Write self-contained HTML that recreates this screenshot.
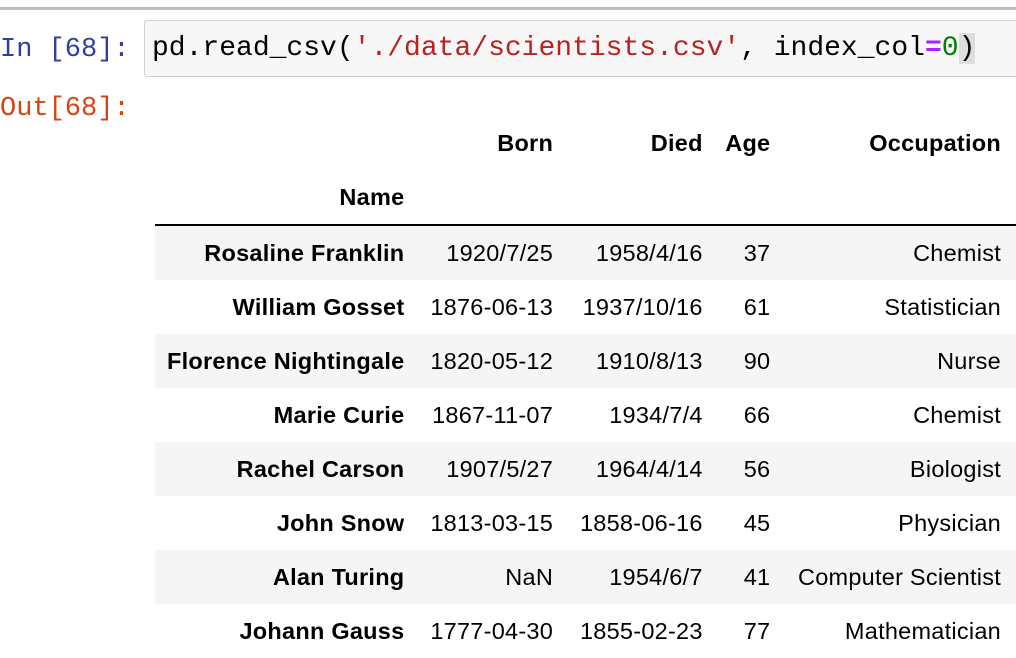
<!DOCTYPE html>
<html><head><meta charset="utf-8"><style>
body{margin:0;width:1016px;height:656px;overflow:hidden;background:#fff;font-family:"Liberation Sans",Arial,sans-serif;position:relative}
.topline{position:absolute;left:0;top:7px;width:1016px;height:3px;background:#bdbdbd}
.prompt{position:absolute;left:0;font-family:"Liberation Mono",monospace;font-size:27px;white-space:pre}
.inbox{position:absolute;left:144px;top:20px;width:890px;height:57px;border:1px solid #cfcfcf;border-radius:3px;background:#f7f7f7;box-sizing:border-box}
.code{position:absolute;left:152px;top:33px;font-family:"Liberation Mono",monospace;font-size:28px;white-space:pre;color:#000}
table{position:absolute;left:155px;top:116px;border-collapse:collapse;font-size:23.5px;letter-spacing:0.25px;color:#000}
td,th{padding:0;height:54px;text-align:right;white-space:nowrap}
th{font-weight:bold}
tbody tr:nth-child(odd){background:#f5f5f5}
tbody th{padding-left:12px}
</style></head><body>
<div class="topline"></div>
<div class="prompt" style="top:35px;color:#303f9f">In [68]:</div>
<div class="inbox"></div>
<div class="code">pd.read_csv(<span style="color:#ba2121">'./data/scientists.csv'</span>, index_col<span style="color:#aa22ff;font-weight:bold">=</span><span style="color:#008000">0</span><span style="background:#ddd">)</span></div>
<div class="prompt" style="top:94px;color:#d84315">Out[68]:</div>
<table>
<thead>
<tr><th style="width:248px"></th><th style="width:149px">Born</th><th style="width:150px">Died</th><th style="width:68px">Age</th><th style="width:231px;padding-right:15px">Occupation</th></tr>
<tr style="border-bottom:2px solid #000"><th>Name</th><th></th><th></th><th></th><th></th></tr>
</thead>
<tbody>
<tr><th>Rosaline Franklin</th><td>1920/7/25</td><td>1958/4/16</td><td>37</td><td style="padding-right:15px">Chemist</td></tr>
<tr><th>William Gosset</th><td>1876-06-13</td><td>1937/10/16</td><td>61</td><td style="padding-right:15px">Statistician</td></tr>
<tr><th>Florence Nightingale</th><td>1820-05-12</td><td>1910/8/13</td><td>90</td><td style="padding-right:15px">Nurse</td></tr>
<tr><th>Marie Curie</th><td>1867-11-07</td><td>1934/7/4</td><td>66</td><td style="padding-right:15px">Chemist</td></tr>
<tr><th>Rachel Carson</th><td>1907/5/27</td><td>1964/4/14</td><td>56</td><td style="padding-right:15px">Biologist</td></tr>
<tr><th>John Snow</th><td>1813-03-15</td><td>1858-06-16</td><td>45</td><td style="padding-right:15px">Physician</td></tr>
<tr><th>Alan Turing</th><td>NaN</td><td>1954/6/7</td><td>41</td><td style="padding-right:15px">Computer Scientist</td></tr>
<tr><th>Johann Gauss</th><td>1777-04-30</td><td>1855-02-23</td><td>77</td><td style="padding-right:15px">Mathematician</td></tr>
</tbody>
</table>
</body></html>
